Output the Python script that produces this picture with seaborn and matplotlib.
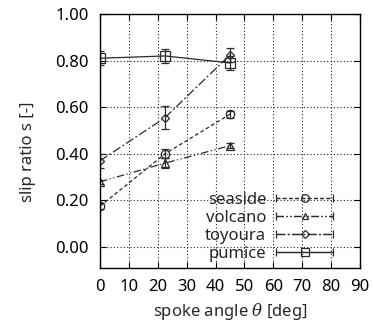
import matplotlib
matplotlib.use("Agg")
import matplotlib.pyplot as plt
from matplotlib.container import ErrorbarContainer
from matplotlib.legend_handler import HandlerErrorbar
import numpy as np
import pandas as pd
import seaborn as sns

# data
angles = [0, 22.5, 45]
seaside = [0.175, 0.40, 0.57]
seaside_err = [0.012, 0.02, 0.015]
volcano = [0.28, 0.36, 0.435]
volcano_err = [0.008, 0.02, 0.01]
toyoura = [0.37, 0.555, 0.825]
toyoura_err = [0.03, 0.05, 0.03]
pumice = [0.81, 0.82, 0.79]
pumice_err = [0.03, 0.03, 0.03]

series = ["seaside", "volcano", "toyoura", "pumice"]
values = {"seaside": seaside, "volcano": volcano, "toyoura": toyoura, "pumice": pumice}
errors = {"seaside": seaside_err, "volcano": volcano_err, "toyoura": toyoura_err, "pumice": pumice_err}
markers = {"seaside": "o", "volcano": "^", "toyoura": "D", "pumice": "s"}
msizes = {"seaside": 6, "volcano": 5.5, "toyoura": 4.5, "pumice": 6.5}
dashes = {"seaside": (3, 2), "volcano": (6, 2, 1, 2, 1, 2), "toyoura": (7, 2, 1.5, 2), "pumice": None}

sns.set_style("ticks")
plt.rcParams["font.family"] = ["Noto Sans", "DejaVu Sans"]
plt.rcParams["mathtext.fontset"] = "dejavuserif"

fig = plt.figure(figsize=(3.73, 3.29), dpi=100)
ax = fig.add_axes([100 / 373, 1 - 268 / 329, 260 / 373, 254 / 329])

col = "#2a2a2a"
handles = []
for k in series:
    d = pd.DataFrame({"angle": angles, "s": values[k]})
    sns.lineplot(data=d, x="angle", y="s", color=col, linewidth=0.9,
                 marker=markers[k], markersize=msizes[k],
                 markerfacecolor="none", markeredgecolor=col, markeredgewidth=0.9,
                 ax=ax)
    if dashes[k]:
        ax.lines[-1].set_dashes(dashes[k])
    ax.errorbar(angles, values[k], yerr=errors[k], fmt="none", ecolor=col,
                elinewidth=0.9, capsize=3, capthick=0.9)
    # dummy handle with horizontal error bar, gnuplot style key
    h = ax.errorbar([np.nan], [np.nan], xerr=[1], color=col, lw=0.9,
                    marker=markers[k], ms=msizes[k] - 0.5, mfc="none", mec=col,
                    mew=0.9, capsize=3, capthick=0.9, elinewidth=0.9)
    if dashes[k]:
        h.lines[0].set_dashes(dashes[k])
        for bc in h.lines[2]:
            bc.set_linestyle((0, dashes[k]))
    handles.append(h)

hl = 3.4
ax.legend(handles, series, loc="lower right", frameon=False, markerfirst=False,
          fontsize=12, handlelength=hl, handletextpad=0.6, labelspacing=0.12,
          borderpad=0, borderaxespad=0, numpoints=1,
          bbox_to_anchor=(233 / 260, 0.025),
          handler_map={ErrorbarContainer: HandlerErrorbar(xerr_size=hl / 2)})

ax.set_xlim(0, 90)
ax.set_ylim(-0.09, 1.0)
ax.set_xticks(np.arange(0, 91, 10))
ax.set_yticks(np.arange(0, 1.01, 0.2))
ax.set_yticklabels([f"{v:.2f}" for v in np.arange(0, 1.01, 0.2)])
ax.set_xlabel("")
ax.set_ylabel("")
ax.grid(True, color="#222222", linestyle=(0, (1, 2)), linewidth=0.8)
ax.tick_params(direction="in", top=True, right=True, length=4.5, width=0.8,
               labelsize=12, colors="black", pad=8)
for sp in ax.spines.values():
    sp.set_linewidth(1.0)
    sp.set_color("black")
    sp.set_visible(True)

ax.set_xlabel(r"spoke angle $\theta$ [deg]", fontsize=12)
ax.set_ylabel("slip ratio s [-]", fontsize=12)
ax.xaxis.set_label_coords(0.5, -44 / 254, transform=ax.transAxes)
ax.yaxis.set_label_coords(-72 / 260, 0.457, transform=ax.transAxes)
ax.xaxis.label.set_va("center")
ax.yaxis.label.set_va("center")

fig.savefig("out.png", dpi=100)
